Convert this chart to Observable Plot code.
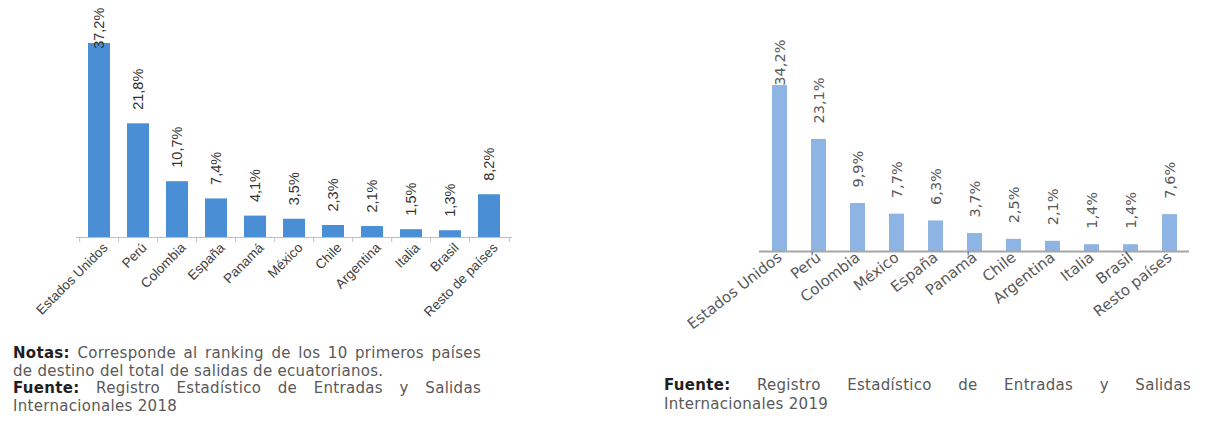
<!DOCTYPE html>
<html><head><meta charset="utf-8">
<script src="https://cdn.jsdelivr.net/npm/d3@7"></script>
<script src="https://cdn.jsdelivr.net/npm/@observablehq/plot@0.6"></script>
<style>
body{margin:0;background:#fff;width:1211px;height:425px;overflow:hidden;position:relative;font-family:"DejaVu Sans",sans-serif;}
#c2018{position:absolute;left:0;top:0;}
#c2019{position:absolute;left:660px;top:0;}
.note{position:absolute;font-size:15px;letter-spacing:0.3px;color:#595959;}
.note b{color:#1f1f1f;}
.j{text-align:justify;text-align-last:justify;}
</style></head><body>
<div id="c2018"></div><div id="c2019"></div>
<div class="note" style="left:13px;top:345px;width:468px;line-height:17.5px">
 <div class="j"><b>Notas:</b> Corresponde al ranking de los 10 primeros países</div>
 <div>de destino del total de salidas de ecuatorianos.</div>
 <div class="j"><b>Fuente:</b> Registro Estadístico de Entradas y Salidas</div>
 <div>Internacionales 2018</div>
</div>
<div class="note" style="left:664px;top:376px;width:527px;line-height:19px">
 <div class="j"><b>Fuente:</b> Registro Estadístico de Entradas y Salidas</div>
 <div>Internacionales 2019</div>
</div>
<script>
const paises2018 = ["Estados Unidos","Perú","Colombia","España","Panamá","México","Chile","Argentina","Italia","Brasil","Resto de países"];
const valores2018 = [37.2, 21.8, 10.7, 7.4, 4.1, 3.5, 2.3, 2.1, 1.5, 1.3, 8.2];
const paises2019 = ["Estados Unidos","Perú","Colombia","México","España","Panamá","Chile","Argentina","Italia","Brasil","Resto países"];
const valores2019 = [34.2, 23.1, 9.9, 7.7, 6.3, 3.7, 2.5, 2.1, 1.4, 1.4, 7.6];

const fmt = v => v.toFixed(1).replace(".", ",") + "%";
const data2018 = paises2018.map((p, i) => ({pais: p, pct: valores2018[i]}));
const data2019 = paises2019.map((p, i) => ({pais: p, pct: valores2019[i]}));

// Chart 2018
const W1 = 530, H1 = 340, L1 = 76, R1 = 512;
const step1 = (R1 - L1) / paises2018.length;
const cap1 = 33.5;
const chart1 = Plot.plot({
  width: W1, height: H1,
  marginLeft: L1, marginRight: W1 - R1, marginTop: 0, marginBottom: H1 - 242,
  style: {fontFamily: "Liberation Sans, sans-serif", background: "transparent", overflow: "visible"},
  x: {domain: paises2018, paddingInner: 0.44, paddingOuter: 0.22, label: null, axis: null},
  y: {domain: [-0.96, 45.45], axis: null},
  marks: [
    Plot.barY(data2018, {x: "pais", y: "pct", fill: "#4a8fd6"}),
    Plot.ruleY([0], {stroke: "#bfbfbf"}),
    Plot.ruleX(paises2018, {x: d => d, y1: 0, y2: -0.96, dx: -step1 / 2, stroke: "#bfbfbf"}),
    Plot.ruleX(paises2018.slice(-1), {x: d => d, y1: 0, y2: -0.96, dx: step1 / 2, stroke: "#bfbfbf"}),
    Plot.text(data2018, {x: "pais", y: d => Math.min(d.pct, cap1), text: d => fmt(d.pct), rotate: -90, textAnchor: "start", dy: -14, fontSize: 14.5, fill: "#333333"}),
    Plot.axisX({domain: paises2018, tickSize: 0, tickRotate: -45, tickPadding: 3, dx: 6, fontSize: 13.5, color: "#404040", label: null})
  ]
});
document.getElementById("c2018").append(chart1);

// Chart 2019
const W2 = 551, H2 = 330, L2 = 99, R2 = 529;
const cap2 = 30.9;
const chart2 = Plot.plot({
  width: W2, height: H2,
  marginLeft: L2, marginRight: W2 - R2, marginTop: 0, marginBottom: H2 - 251,
  style: {fontFamily: "DejaVu Sans, sans-serif", background: "transparent", overflow: "visible"},
  x: {domain: paises2019, paddingInner: 0.616, paddingOuter: 0.308, label: null, axis: null},
  y: {domain: [0, 51.75], axis: null},
  marks: [
    Plot.barY(data2019, {x: "pais", y: "pct", fill: "#8db4e2"}),
    Plot.ruleY([0], {stroke: "#a6a6a6", strokeWidth: 2}),
    Plot.text(data2019, {x: "pais", y: d => Math.min(d.pct, cap2), text: d => fmt(d.pct), rotate: -90, textAnchor: "start", dy: -16, fontSize: 14.5, fill: "#595959"}),
    Plot.axisX({domain: paises2019, tickSize: 0, tickRotate: -38, tickPadding: 4, fontSize: 15, color: "#595959", label: null})
  ]
});
document.getElementById("c2019").append(chart2);
</script>
</body></html>
